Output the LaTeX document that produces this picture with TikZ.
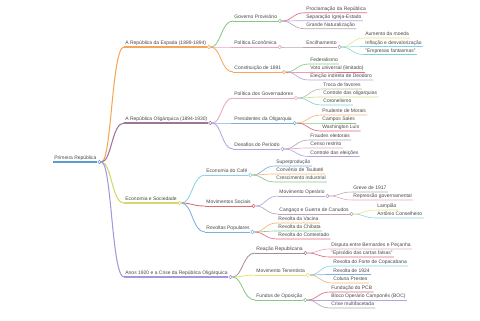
\documentclass[tikz,border=0pt]{standalone}
\usepackage{fontspec}
\setmainfont{Liberation Sans}
\usetikzlibrary{calc,backgrounds}

\definecolor{mmroot}{HTML}{5B9BD5}
\definecolor{mmorange}{HTML}{F5A65B}
\definecolor{mmplum}{HTML}{A07498}
\definecolor{mmkhaki}{HTML}{D6D66B}
\definecolor{mmviolet}{HTML}{A497DA}
\definecolor{mmgreen}{HTML}{86C886}
\definecolor{mmpink}{HTML}{E8A6C8}
\definecolor{mmlav}{HTML}{B3A6DE}
\definecolor{mmred}{HTML}{E06A7E}
\definecolor{mmcoral}{HTML}{E06B6B}
\definecolor{mmcyan}{HTML}{88D3E6}
\definecolor{mmsky}{HTML}{7FAEE0}
\definecolor{mmyellow}{HTML}{E6E27A}
\definecolor{mmmauve}{HTML}{B9A3B5}
\definecolor{mmdusk}{HTML}{A78C9E}
\definecolor{mmsand}{HTML}{F2B47A}
\definecolor{mmgrey}{HTML}{C2B6B0}
\definecolor{mmlime}{HTML}{D3DE8F}
\definecolor{mmteal}{HTML}{7FCFD6}

\tikzset{
  lbl/.style={anchor=south west, inner xsep=1.2bp, inner ysep=0pt, text depth=2bp, text height=3.7bp,
    font=\fontsize{5}{6}\selectfont, text=black!72},
  mmdot/.style={circle, draw=#1, fill=white, line width=0.6bp, inner sep=0pt, minimum size=3.4bp},
  link/.style={to path={let \p1=(\tikztostart), \p2=(\tikztotarget) in
    .. controls ({0.5*\x1+0.5*\x2},\y1) and ({0.5*\x1+0.5*\x2},\y2) .. (\tikztotarget)}},
  w0/.style={line width=1.6bp},
  w1/.style={line width=1.05bp},
  w2/.style={line width=0.85bp},
  w3/.style={line width=0.65bp},
  w4/.style={line width=0.55bp},
}

\begin{document}
\begin{tikzpicture}[x=1bp,y=-1bp]
  \useasboundingbox (0,0) rectangle (480,320);

  % root and first level
  \node[lbl] (root) at (53,162) {Primeira República};
  \node[mmdot=mmroot] (rootc) at ([xshift=1.5bp]root.south east) {};
  \node[lbl] (espada) at (124,47) {A República da Espada (1889-1894)};
  \node[mmdot=mmorange] (espadac) at ([xshift=1.5bp]espada.south east) {};
  \node[lbl] (olig) at (124,123) {A República Oligárquica (1894-1930)};
  \node[mmdot=mmplum] (oligc) at ([xshift=1.5bp]olig.south east) {};
  \node[lbl] (econ) at (124,203) {Economia e Sociedade};
  \node[mmdot=mmkhaki] (econc) at ([xshift=1.5bp]econ.south east) {};
  \node[lbl] (anos) at (124,277) {Anos 1920 e a Crise da República Oligárquica};
  \node[mmdot=mmviolet] (anosc) at ([xshift=1.5bp]anos.south east) {};

  % Republica da Espada
  \node[lbl] (gov) at (233,21) {Governo Provisório};
  \node[mmdot=mmgreen] (govc) at ([xshift=1.5bp]gov.south east) {};
  \node[lbl] (poleco) at (233,47) {Política Econômica};
  \node[mmdot=mmpink] (polecoc) at ([xshift=1.5bp]poleco.south east) {};
  \node[lbl] (const) at (233,72) {Constituição de 1891};
  \node[mmdot=mmorange] (constc) at ([xshift=1.5bp]const.south east) {};

  \node[lbl] (procl) at (305,12.7) {Proclamação da República};
  \node[lbl] (separ) at (305,20.7) {Separação Igreja-Estado};
  \node[lbl] (natur) at (305,28.7) {Grande Naturalização};
  \node[lbl] (enc) at (305,47) {Encilhamento};
  \node[mmdot=mmmauve] (encc) at ([xshift=1.5bp]enc.south east) {};
  \node[lbl] (moeda) at (364,38) {Aumento da moeda};
  \node[lbl] (infl) at (364,46.5) {Inflação e desvalorização};
  \node[lbl] (fantas) at (364,54.5) {"Empresas fantasmas"};
  \node[lbl] (feder) at (309,64) {Federalismo};
  \node[lbl] (voto) at (309,72) {Voto universal (limitado)};
  \node[lbl] (eleic) at (309,80) {Eleição indireta de Deodoro};

  % Republica Oligarquica
  \node[lbl] (polgov) at (233,98) {Política dos Governadores};
  \node[mmdot=mmpink] (polgovc) at ([xshift=1.5bp]polgov.south east) {};
  \node[lbl] (pres) at (233,123) {Presidentes da Oligarquia};
  \node[mmdot=mmsky] (presc) at ([xshift=1.5bp]pres.south east) {};
  \node[lbl] (desaf) at (233,149) {Desafios do Período};
  \node[mmdot=mmlav] (desafc) at ([xshift=1.5bp]desaf.south east) {};

  \node[lbl] (troca) at (322,89) {Troca de favores};
  \node[lbl] (olgq) at (322,97) {Controle das oligarquias};
  \node[lbl] (coron) at (322,105) {Coronelismo};
  \node[lbl] (prud) at (321,115) {Prudente de Morais};
  \node[lbl] (campos) at (321,123) {Campos Sales};
  \node[lbl] (wash) at (321,131) {Washington Luís};
  \node[lbl] (fraud) at (309,140) {Fraudes eleitorais};
  \node[lbl] (censo) at (309,148) {Censo restrito};
  \node[lbl] (ctrl) at (309,156.5) {Controle das eleições};

  % Economia e Sociedade
  \node[lbl] (cafe) at (205,175) {Economia do Café};
  \node[mmdot=mmcyan] (cafec) at ([xshift=1.5bp]cafe.south east) {};
  \node[lbl] (movsoc) at (205,206) {Movimentos Sociais};
  \node[mmdot=mmcoral] (movsocc) at ([xshift=1.5bp]movsoc.south east) {};
  \node[lbl] (revpop) at (205,232) {Revoltas Populares};
  \node[mmdot=mmsky] (revpopc) at ([xshift=1.5bp]revpop.south east) {};

  \node[lbl] (superp) at (275,166) {Superprodução};
  \node[lbl] (taub) at (275,174) {Convênio de Taubaté};
  \node[lbl] (cresc) at (275,182) {Crescimento industrial};
  \node[lbl] (movop) at (278,196) {Movimento Operário};
  \node[mmdot=mmlav] (movopc) at ([xshift=1.5bp]movop.south east) {};
  \node[lbl] (cangaco) at (278,214) {Cangaço e Guerra de Canudos};
  \node[mmdot=mmmauve] (cangacoc) at ([xshift=1.5bp]cangaco.south east) {};
  \node[lbl] (greve) at (352,192) {Greve de 1917};
  \node[lbl] (repr) at (352,200) {Repressão governamental};
  \node[lbl] (lamp) at (376,210) {Lampião};
  \node[lbl] (antonio) at (376,218) {Antônio Conselheiro};
  \node[lbl] (vacina) at (277,223) {Revolta da Vacina};
  \node[lbl] (chib) at (277,231) {Revolta da Chibata};
  \node[lbl] (contest) at (277,239) {Revolta do Contestado};

  % Anos 1920
  \node[lbl] (reacao) at (255,253) {Reação Republicana};
  \node[mmdot=mmdusk] (reacaoc) at ([xshift=1.5bp]reacao.south east) {};
  \node[lbl] (tenent) at (255,275) {Movimento Tenentista};
  \node[mmdot=mmyellow] (tenentc) at ([xshift=1.5bp]tenent.south east) {};
  \node[lbl] (fundos) at (255,300) {Fundos de Oposição};
  \node[mmdot=mmgreen] (fundosc) at ([xshift=1.5bp]fundos.south east) {};

  \node[lbl] (disp) at (330,249) {Disputa entre Bernardes e Peçanha};
  \node[lbl] (cartas) at (330,257) {"Episódio das cartas falsas"};
  \node[lbl] (forte) at (332,266) {Revolta do Forte de Copacabana};
  \node[lbl] (rev24) at (332,274.5) {Revolta de 1924};
  \node[lbl] (coluna) at (332,283) {Coluna Prestes};
  \node[lbl] (pcb) at (330,292) {Fundação do PCB};
  \node[lbl] (boc) at (330,300) {Bloco Operário Camponês (BOC)};
  \node[lbl] (crise) at (330,308) {Crise multifacetada};

  \begin{pgfonlayer}{background}
    % underlines of inner nodes
    \draw[mmroot,w0] (root.south west) -- (rootc);
    \draw[mmorange,w1] (espada.south west) -- (espadac);
    \draw[mmplum,w1] (olig.south west) -- (oligc);
    \draw[mmkhaki,w1] (econ.south west) -- (econc);
    \draw[mmviolet,w1] (anos.south west) -- (anosc);
    \draw[mmgreen,w2] (gov.south west) -- (govc);
    \draw[mmpink,w2] (poleco.south west) -- (polecoc);
    \draw[mmorange,w2] (const.south west) -- (constc);
    \draw[mmpink,w2] (polgov.south west) -- (polgovc);
    \draw[mmsky,w2] (pres.south west) -- (presc);
    \draw[mmlav,w2] (desaf.south west) -- (desafc);
    \draw[mmcyan,w2] (cafe.south west) -- (cafec);
    \draw[mmcoral,w2] (movsoc.south west) -- (movsocc);
    \draw[mmsky,w2] (revpop.south west) -- (revpopc);
    \draw[mmdusk,w2] (reacao.south west) -- (reacaoc);
    \draw[mmyellow,w2] (tenent.south west) -- (tenentc);
    \draw[mmgreen,w2] (fundos.south west) -- (fundosc);
    \draw[mmmauve,w3] (enc.south west) -- (encc);
    \draw[mmlav,w3] (movop.south west) -- (movopc);
    \draw[mmmauve,w3] (cangaco.south west) -- (cangacoc);

    % links from the root
    \draw[mmorange,w1] (rootc) to[link] (espada.south west);
    \draw[mmplum,w1] (rootc) to[link] (olig.south west);
    \draw[mmkhaki,w1] (rootc) to[link] (econ.south west);
    \draw[mmviolet,w1] (rootc) to[link] (anos.south west);

    % links, second level
    \draw[mmgreen,w2] (espadac) to[link] (gov.south west);
    \draw[mmpink,w2] (espadac) to[link] (poleco.south west);
    \draw[mmorange,w2] (espadac) to[link] (const.south west);
    \draw[mmpink,w2] (oligc) to[link] (polgov.south west);
    \draw[mmsky,w2] (oligc) to[link] (pres.south west);
    \draw[mmlav,w2] (oligc) to[link] (desaf.south west);
    \draw[mmcyan,w2] (econc) to[link] (cafe.south west);
    \draw[mmcoral,w2] (econc) to[link] (movsoc.south west);
    \draw[mmsky,w2] (econc) to[link] (revpop.south west);
    \draw[mmdusk,w2] (anosc) to[link] (reacao.south west);
    \draw[mmyellow,w2] (anosc) to[link] (tenent.south west);
    \draw[mmgreen,w2] (anosc) to[link] (fundos.south west);

    % links and underlines, third level
    \draw[mmred,w3] (govc) to[link] (procl.south west) -- (procl.south east);
    \draw[mmlav,w3] (govc) to[link] (separ.south west) -- (separ.south east);
    \draw[mmmauve,w3] (govc) to[link] (natur.south west) -- (natur.south east);
    \draw[mmmauve,w3] (polecoc) to[link] (enc.south west);
    \draw[mmgreen,w3] (constc) to[link] (feder.south west) -- (feder.south east);
    \draw[mmred,w3] (constc) to[link] (voto.south west) -- (voto.south east);
    \draw[mmlav,w3] (constc) to[link] (eleic.south west) -- (eleic.south east);
    \draw[mmgrey,w3] (polgovc) to[link] (troca.south west) -- (troca.south east);
    \draw[mmlime,w3] (polgovc) to[link] (olgq.south west) -- (olgq.south east);
    \draw[mmteal,w3] (polgovc) to[link] (coron.south west) -- (coron.south east);
    \draw[mmsand,w3] (presc) to[link] (prud.south west) -- (prud.south east);
    \draw[mmgreen,w3] (presc) to[link] (campos.south west) -- (campos.south east);
    \draw[mmred,w3] (presc) to[link] (wash.south west) -- (wash.south east);
    \draw[mmmauve,w3] (desafc) to[link] (fraud.south west) -- (fraud.south east);
    \draw[mmpink,w3] (desafc) to[link] (censo.south west) -- (censo.south east);
    \draw[mmlav,w3] (desafc) to[link] (ctrl.south west) -- (ctrl.south east);
    \draw[mmsky,w3] (cafec) to[link] (superp.south west) -- (superp.south east);
    \draw[mmsand,w3] (cafec) to[link] (taub.south west) -- (taub.south east);
    \draw[mmgreen,w3] (cafec) to[link] (cresc.south west) -- (cresc.south east);
    \draw[mmlav,w3] (movsocc) to[link] (movop.south west);
    \draw[mmmauve,w3] (movsocc) to[link] (cangaco.south west);
    \draw[mmsand,w3] (revpopc) to[link] (vacina.south west) -- (vacina.south east);
    \draw[mmgreen,w3] (revpopc) to[link] (chib.south west) -- (chib.south east);
    \draw[mmred,w3] (revpopc) to[link] (contest.south west) -- (contest.south east);
    \draw[mmpink,w3] (reacaoc) to[link] (disp.south west) -- (disp.south east);
    \draw[mmred,w3] (reacaoc) to[link] (cartas.south west) -- (cartas.south east);
    \draw[mmcyan,w3] (tenentc) to[link] (forte.south west) -- (forte.south east);
    \draw[mmsky,w3] (tenentc) to[link] (rev24.south west) -- (rev24.south east);
    \draw[mmsand,w3] (tenentc) to[link] (coluna.south west) -- (coluna.south east);
    \draw[mmred,w3] (fundosc) to[link] (pcb.south west) -- (pcb.south east);
    \draw[mmlav,w3] (fundosc) to[link] (boc.south west) -- (boc.south east);
    \draw[mmmauve,w3] (fundosc) to[link] (crise.south west) -- (crise.south east);

    % fourth level
    \draw[mmyellow,w4] (encc) to[link] (moeda.south west) -- (moeda.south east);
    \draw[mmcyan,w4] (encc) to[link] (infl.south west) -- (infl.south east);
    \draw[mmteal,w4] (encc) to[link] (fantas.south west) -- (fantas.south east);
    \draw[mmmauve,w4] (movopc) to[link] (greve.south west) -- (greve.south east);
    \draw[mmpink,w4] (movopc) to[link] (repr.south west) -- (repr.south east);
    \draw[mmyellow,w4] (cangacoc) to[link] (lamp.south west) -- (lamp.south east);
    \draw[mmcyan,w4] (cangacoc) to[link] (antonio.south west) -- (antonio.south east);
  \end{pgfonlayer}
\end{tikzpicture}
\end{document}
